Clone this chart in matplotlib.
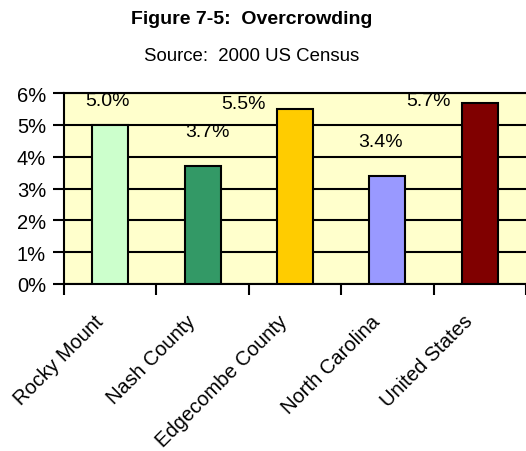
import numpy as np
import matplotlib

matplotlib.use('Agg')

import matplotlib.pyplot as plt
import matplotlib.transforms as mtransforms
from matplotlib.ticker import FixedLocator

plt.rcParams['font.family'] = ['Liberation Sans', 'DejaVu Sans']

# overcrowding share by area, percent
areas = ['Rocky Mount', 'Nash County', 'Edgecombe County', 'North Carolina', 'United States']
overcrowding = [5.0, 3.7, 5.5, 3.4, 5.7]
bar_colors = ['#CCFFCC', '#339966', '#FFCC00', '#9999FF', '#800000']

# where each value label sits (x shift in category units, y in percent)
label_dx = [-0.03, 0.05, -0.56, -0.07, -0.55]
label_y = [5.75, 4.78, 5.66, 4.47, 5.75]

fig = plt.figure(figsize=(5.26, 4.52), dpi=100)
ax = fig.add_axes([0.1217, 0.3695, 0.8783, 0.4225])
ax.set_facecolor('#FFFFCC')

x = np.arange(len(areas))
ax.bar(x, overcrowding, width=0.39, color=bar_colors, edgecolor='black',
       linewidth=1.5, zorder=3)

for i, v in enumerate(overcrowding):
    ax.text(x[i] + label_dx[i], label_y[i], f'{v:.1f}%', ha='center', va='center',
            fontsize=14, zorder=4)

ax.set_xlim(-0.5, len(areas) - 0.5)
ax.set_ylim(0, 6)
ax.set_yticks(range(0, 7))
ax.set_yticklabels([f'{t}%' for t in range(0, 7)], fontsize=14.5)
ax.yaxis.grid(True, color='black', linewidth=1.5, zorder=1)
ax.set_axisbelow(True)

# slanted area names hang below each category, a bit left of centre
ax.set_xticks(x)
ax.set_xticklabels([])
name_trans = ax.get_xaxis_transform() + mtransforms.ScaledTranslation(
    -0.10, -0.34, fig.dpi_scale_trans)
for xi, name in zip(x, areas):
    ax.text(xi, 0, name, transform=name_trans, rotation=45, ha='right', va='center',
            rotation_mode='anchor', fontsize=14.5, clip_on=False)

ax.xaxis.set_minor_locator(FixedLocator(np.arange(-0.5, len(areas) - 0.4, 1.0)))
ax.tick_params(axis='x', which='major', length=0)
ax.tick_params(axis='x', which='minor', length=8, width=1.5, direction='out')
ax.tick_params(axis='y', length=8, width=1.5, direction='out', pad=5)

for side in ['left', 'bottom', 'top']:
    ax.spines[side].set_linewidth(1.5)
ax.spines['right'].set_visible(False)

fig.text(0.479, 0.956, 'Figure 7-5:  Overcrowding', ha='center', va='center',
         fontsize=14, fontweight='bold')
fig.text(0.479, 0.874, 'Source:  2000 US Census', ha='center', va='center', fontsize=13.4)

plt.savefig('out.png', format='png')
plt.close(fig)
